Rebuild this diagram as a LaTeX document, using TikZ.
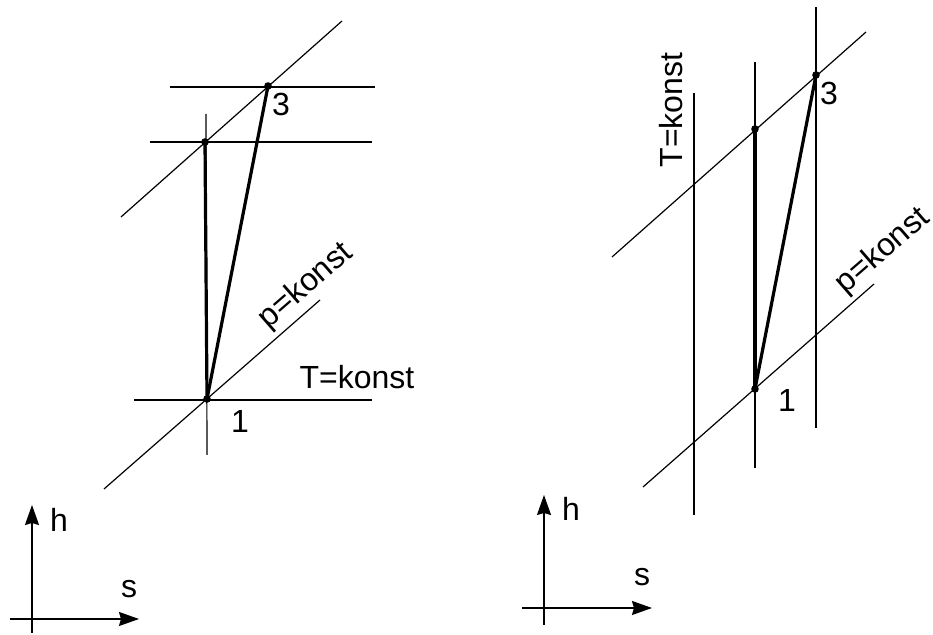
\documentclass[tikz,border=0pt]{standalone}
\usepackage{fontspec}
\setmainfont{Liberation Sans}
\usetikzlibrary{arrows.meta}
\begin{document}
\begin{tikzpicture}[x=0.5pt,y=-0.5pt,
  thin line/.style={line width=0.6pt},
  thick line/.style={line width=1.6pt},
  dot/.style={circle,fill=black,inner sep=0pt,minimum size=3.8pt},
  lbl/.style={font=\fontsize{16}{18}\selectfont,inner sep=0pt},
  axis/.style={line width=0.8pt,-{Stealth[length=10pt,width=7pt,inset=1pt]}}]
\useasboundingbox (0,0) rectangle (933,635);
% ---------- left diagram ----------
\coordinate (LdA) at (121,217); \coordinate (LdB) at (342,21);
\coordinate (LeA) at (104,489); \coordinate (LeB) at (320,300);
\coordinate (LhA) at (170,87);  \coordinate (LhB) at (375,87);
\coordinate (LgA) at (150,142); \coordinate (LgB) at (372,142);
\coordinate (LfA) at (134,400); \coordinate (LfB) at (372,400);
\coordinate (LvA) at (206,114); \coordinate (LvB) at (207,455);
\draw[thin line] (LdA) -- (LdB);
\draw[thin line] (LeA) -- (LeB);
\draw[thin line] (LhA) -- (LhB);
\draw[thin line] (LgA) -- (LgB);
\draw[thin line] (LfA) -- (LfB);
\draw[thin line] (LvA) -- (LvB);
\node[dot] (L1) at (207,399) {};
\node[dot] (L2) at (205,142) {};
\node[dot] (L3) at (268,86) {};
\draw[thick line] (L1.center) -- (L2.center);
\draw[thick line] (L1.center) -- (L3.center);
\node[lbl] (L3t) at (281,104) {3};
\node[lbl] (L1t) at (240,421) {1};
\node[lbl] (LT) at (357,377) {T=konst};
\node[lbl,rotate=41] (Lp) at (306,286) {p=konst};
% ---------- right diagram ----------
\coordinate (RdA) at (612,257); \coordinate (RdB) at (866,32);
\coordinate (ReA) at (643,487); \coordinate (ReB) at (874,284);
\coordinate (RvA) at (816,7);   \coordinate (RvB) at (816,428);
\coordinate (RwA) at (755,62);  \coordinate (RwB) at (755,468);
\coordinate (RuA) at (694,93);  \coordinate (RuB) at (694,515);
\draw[thin line] (RdA) -- (RdB);
\draw[thin line] (ReA) -- (ReB);
\draw[thin line] (RvA) -- (RvB);
\draw[thin line] (RwA) -- (RwB);
\draw[thin line] (RuA) -- (RuB);
\node[dot] (R1) at (755,389) {};
\node[dot] (R2) at (755,129) {};
\node[dot] (R3) at (816,75) {};
\draw[thick line] (R1.center) -- (R2.center);
\draw[thick line] (R1.center) -- (R3.center);
\node[lbl] (R3t) at (829,93) {3};
\node[lbl] (R1t) at (787,400) {1};
\node[lbl,rotate=90] (RT) at (671,110) {T=konst};
\node[lbl,rotate=41] (Rp) at (883,251) {p=konst};
% ---------- axes ----------
\coordinate (LxA) at (10,619);  \coordinate (LxB) at (139,619);
\coordinate (LyA) at (32,633);  \coordinate (LyB) at (32,505);
\draw[axis] (LxA) -- (LxB);
\draw[axis] (LyA) -- (LyB);
\node[lbl] (Lh) at (59,520) {h};
\node[lbl] (Ls) at (129,589) {s};
\coordinate (RxA) at (522,608); \coordinate (RxB) at (652,608);
\coordinate (RyA) at (544,625); \coordinate (RyB) at (544,495);
\draw[axis] (RxA) -- (RxB);
\draw[axis] (RyA) -- (RyB);
\node[lbl] (Rh) at (571,509) {h};
\node[lbl] (Rs) at (642,577) {s};
\end{tikzpicture}
\end{document}
